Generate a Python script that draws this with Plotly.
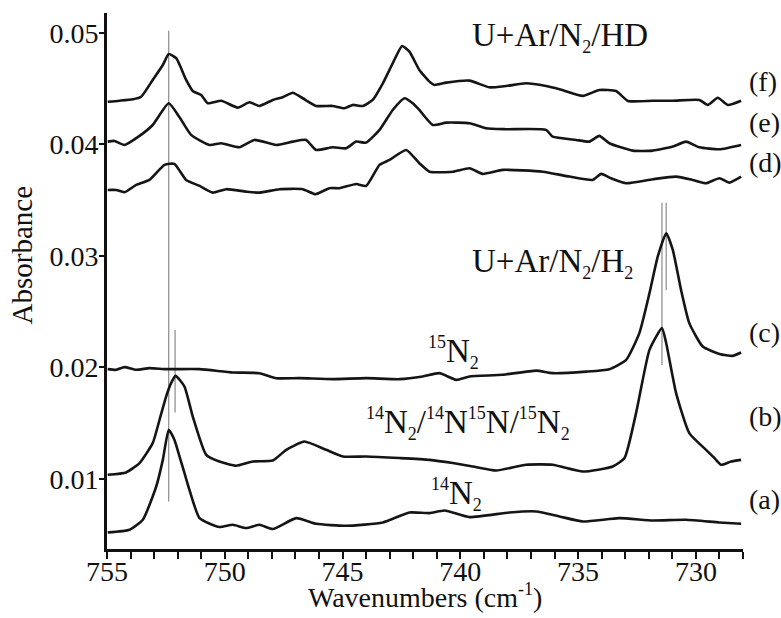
import plotly.graph_objects as go

# ---------------- data (wavenumber, absorbance) ----------------
f_x = [754.97,754.47,753.90,753.55,753.06,752.63,752.38,752.06,751.64,751.36,751.00,750.72,750.15,749.45,748.95,748.53,747.96,747.54,747.11,746.69,746.12,745.42,744.92,744.57,744.14,743.72,743.29,742.87,742.47,742.16,741.74,741.31,741.10,740.60,739.61,738.77,738.06,737.21,736.36,735.79,734.80,734.10,733.39,732.89,731.83,730.98,729.85,729.50,729.07,728.65,728.08]
f_y = [0.04384,0.04393,0.04406,0.04429,0.04579,0.04713,0.04812,0.04774,0.04579,0.04480,0.04444,0.04370,0.04393,0.04331,0.04379,0.04346,0.04400,0.04424,0.04465,0.04415,0.04346,0.04346,0.04325,0.04355,0.04346,0.04400,0.04549,0.04729,0.04884,0.04833,0.04669,0.04564,0.04534,0.04555,0.04573,0.04513,0.04525,0.04549,0.04525,0.04496,0.04436,0.04489,0.04480,0.04391,0.04393,0.04393,0.04400,0.04355,0.04420,0.04355,0.04393]

e_x = [754.97,754.68,754.26,753.62,753.06,752.38,751.92,751.43,750.65,750.15,749.38,748.74,747.82,747.11,746.55,746.12,745.42,744.85,744.42,744.00,743.43,742.87,742.37,742.02,741.74,741.17,740.60,739.61,738.91,738.06,736.36,736.08,735.09,734.52,734.10,733.67,732.68,731.83,730.98,730.42,729.85,729.00,728.08]
e_y = [0.04026,0.04032,0.03996,0.04077,0.04175,0.04370,0.04244,0.04086,0.03996,0.04011,0.03975,0.04041,0.03996,0.04026,0.04041,0.03951,0.03975,0.03966,0.04026,0.04017,0.04131,0.04310,0.04415,0.04370,0.04310,0.04175,0.04196,0.04191,0.04146,0.04137,0.04131,0.04070,0.04041,0.04026,0.04077,0.04011,0.03945,0.03945,0.03981,0.04026,0.03975,0.03957,0.03996]

d_x = [754.97,754.61,754.26,753.76,753.20,752.56,752.14,751.64,751.07,750.51,749.94,749.09,748.53,747.68,746.69,746.15,745.56,745.13,744.42,744.00,743.43,743.01,742.30,741.74,741.31,740.32,739.61,739.05,738.20,736.50,735.37,734.38,734.02,733.60,732.96,731.83,730.84,730.14,729.57,729.00,728.58,728.08]
d_y = [0.03592,0.03592,0.03572,0.03637,0.03682,0.03817,0.03826,0.03682,0.03628,0.03568,0.03599,0.03577,0.03568,0.03599,0.03599,0.03554,0.03608,0.03608,0.03646,0.03628,0.03817,0.03861,0.03951,0.03832,0.03756,0.03756,0.03787,0.03736,0.03772,0.03756,0.03712,0.03682,0.03736,0.03697,0.03652,0.03688,0.03712,0.03682,0.03652,0.03697,0.03658,0.03712]

c_x = [754.97,754.61,754.26,753.76,753.20,752.49,751.07,749.66,748.53,747.82,746.83,745.42,744.00,742.58,741.60,740.89,740.18,739.61,738.20,736.78,736.08,734.66,733.67,732.96,732.40,731.97,731.62,731.26,730.98,730.63,730.28,729.71,729.00,728.44,728.08]
c_y = [0.01984,0.01978,0.02002,0.01978,0.01993,0.01984,0.01984,0.01954,0.01948,0.01903,0.01903,0.01894,0.01903,0.01894,0.01918,0.01948,0.01888,0.01918,0.01933,0.01971,0.01948,0.01962,0.01984,0.02067,0.02307,0.02666,0.02994,0.03204,0.03054,0.02695,0.02397,0.02187,0.02121,0.02103,0.02133]

b_x = [754.97,754.19,753.62,753.06,752.77,752.49,752.28,752.09,751.71,751.36,750.79,750.23,749.52,748.81,747.96,747.39,746.62,745.70,744.99,744.00,742.58,741.31,740.32,739.47,738.48,737.21,736.08,734.80,733.53,733.03,732.54,731.97,731.44,731.26,730.84,730.28,729.57,729.21,728.93,728.51,728.08]
b_y = [0.01036,0.01057,0.01141,0.01320,0.01529,0.01738,0.01858,0.01924,0.01828,0.01559,0.01215,0.01155,0.01117,0.01155,0.01164,0.01260,0.01335,0.01260,0.01200,0.01200,0.01186,0.01170,0.01141,0.01110,0.01074,0.01126,0.01126,0.01065,0.01110,0.01186,0.01589,0.02157,0.02352,0.02217,0.01769,0.01410,0.01260,0.01186,0.01126,0.01155,0.01170]

a_x = [754.97,754.04,753.48,752.91,752.63,752.38,752.14,751.92,751.71,751.50,751.07,750.23,749.66,749.09,748.53,747.96,746.97,746.12,744.85,743.29,742.16,741.31,740.67,739.61,737.92,736.78,735.79,734.80,733.25,731.83,730.42,729.00,728.08]
a_y = [0.00518,0.00543,0.00632,0.00931,0.01170,0.01440,0.01350,0.01200,0.01051,0.00901,0.00647,0.00567,0.00587,0.00558,0.00587,0.00549,0.00647,0.00596,0.00578,0.00608,0.00698,0.00692,0.00716,0.00656,0.00698,0.00707,0.00662,0.00617,0.00647,0.00626,0.00632,0.00608,0.00596]

# reference (vertical) marker lines
mark_x = [752.38, 752.11, 731.44, 731.26]
mark_y0 = [0.00796, 0.01595, 0.02022, 0.02695]
mark_y1 = [0.05020, 0.02336, 0.03478, 0.03478]

series = [("a", a_x, a_y), ("b", b_x, b_y), ("c", c_x, c_y),
          ("d", d_x, d_y), ("e", e_x, e_y), ("f", f_x, f_y)]
trace_labels = ["(a)", "(b)", "(c)", "(d)", "(e)", "(f)"]
label_y = [0.00812, 0.01556, 0.02310, 0.03834, 0.04193, 0.04561]

x_ticks = [755, 750, 745, 740, 735, 730]
y_ticks = [0.01, 0.02, 0.03, 0.04, 0.05]

FONT = "Liberation Serif, Times New Roman, serif"


def sup(t):
    return '<sup><span style="font-size:18px">' + t + '</span></sup>'


def sub(t):
    return '<sub><span style="font-size:18px">' + t + '</span></sub>'


fig = go.Figure()

for mx, y0, y1 in zip(mark_x, mark_y0, mark_y1):
    fig.add_trace(go.Scatter(x=[mx, mx], y=[y0, y1], mode="lines",
                             line=dict(color="#8a8a8a", width=1.2),
                             showlegend=False, hoverinfo="skip"))

for name, xs, ys in series:
    fig.add_trace(go.Scatter(x=xs, y=ys, mode="lines", name=name,
                             line=dict(color="#151515", width=2.6,
                                       shape="spline", smoothing=0.5),
                             showlegend=False))

ann = []
for t, yv in zip(trace_labels, label_y):
    ann.append(dict(x=1.007, xref="paper", y=yv, yref="y", text=t,
                    showarrow=False, xanchor="left", yanchor="middle",
                    font=dict(family=FONT, size=28, color="#111")))

texts = [
    ("U+Ar/N" + sub("2") + "/HD", 739.61, 0.04965),
    ("U+Ar/N" + sub("2") + "/H" + sub("2"), 739.61, 0.02937),
    (sup("15") + "N" + sub("2"), 741.44, 0.02130),
    (sup("14") + "N" + sub("2") + "/" + sup("14") + "N" + sup("15") + "N/" + sup("15") + "N" + sub("2"), 744.07, 0.01493),
    (sup("14") + "N" + sub("2"), 741.31, 0.00856),
]
for t, xv, yv in texts:
    ann.append(dict(x=xv, y=yv, xref="x", yref="y", text=t, showarrow=False,
                    xanchor="left", yanchor="middle",
                    font=dict(family=FONT, size=33, color="#111")))

# axis titles as positioned annotations
ann.append(dict(x=0.5, xref="paper", y=-0.087, yref="paper",
                text="Wavenumbers (cm" + sup("-1") + ")", showarrow=False,
                xanchor="center", yanchor="middle",
                font=dict(family=FONT, size=28, color="#111")))
ann.append(dict(x=-0.133, xref="paper", y=0.5485, yref="paper",
                text="Absorbance", showarrow=False, textangle=-90,
                xanchor="center", yanchor="middle",
                font=dict(family=FONT, size=29, color="#111")))

fig.update_layout(
    width=781, height=618,
    margin=dict(l=107, r=38, t=13, b=69),
    paper_bgcolor="white", plot_bgcolor="white",
    font=dict(family=FONT, color="#111"),
    annotations=ann,
    xaxis=dict(range=[755, 728], tickvals=x_ticks, ticks="outside",
               ticklen=7, tickwidth=2, tickcolor="#111",
               minor=dict(dtick=1, ticks="outside", ticklen=7, tickwidth=2, tickcolor="#111"),
               showline=True, linewidth=3, linecolor="#111", showgrid=False,
               zeroline=False, tickfont=dict(family=FONT, size=28),
               ticklabelstandoff=-12),
    yaxis=dict(range=[0.0037, 0.0518], tickvals=y_ticks, tickformat=".2f",
               ticks="outside", ticklen=5, tickwidth=2, tickcolor="#111",
               showline=True, linewidth=3, linecolor="#111", showgrid=False,
               zeroline=False, tickfont=dict(family=FONT, size=28),
               ticklabelstandoff=-5),
)

fig.write_html("out.html")
